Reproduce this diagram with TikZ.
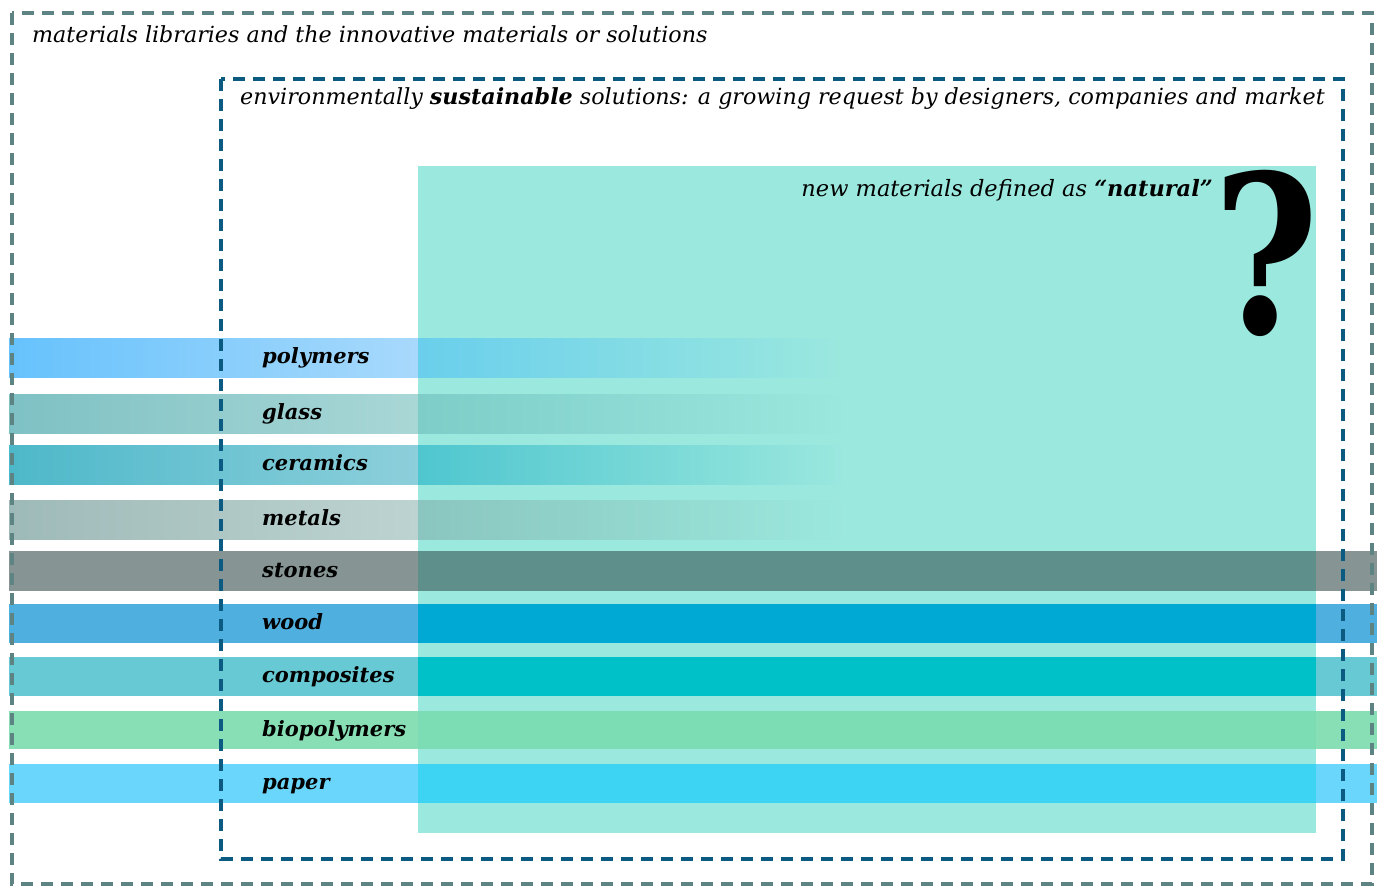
\documentclass[tikz,border=0pt]{standalone}
\usepackage{fontspec}
\setmainfont{DejaVu Serif}
\definecolor{tealbg}{HTML}{9BE8DE}
\definecolor{outerdash}{HTML}{5E8383}
\definecolor{innerdash}{HTML}{0B5A82}
\definecolor{polyA}{HTML}{66C2FC}\definecolor{polyB}{HTML}{A8D9FC}\definecolor{polyC}{HTML}{6ACFEC}
\definecolor{glassA}{HTML}{7EC1C4}\definecolor{glassB}{HTML}{A9D7D6}\definecolor{glassC}{HTML}{7ECDC8}
\definecolor{ceraA}{HTML}{4DB8C9}\definecolor{ceraB}{HTML}{8DCFDB}\definecolor{ceraC}{HTML}{4FC6CF}
\definecolor{metA}{HTML}{9EBAB8}\definecolor{metB}{HTML}{BDD3D1}\definecolor{metC}{HTML}{8AC6BF}
\definecolor{stoneA}{HTML}{869594}\definecolor{stoneC}{HTML}{5F8F8A}
\definecolor{woodA}{HTML}{4FB0E0}\definecolor{woodC}{HTML}{00A8D4}
\definecolor{compA}{HTML}{66C9D3}\definecolor{compC}{HTML}{00C0C8}
\definecolor{bioA}{HTML}{88DFB5}\definecolor{bioC}{HTML}{7CDDB5}
\definecolor{papA}{HTML}{6AD6FC}\definecolor{papC}{HTML}{3DD4F4}
\begin{document}
\begin{tikzpicture}[x=1pt,y=-1pt,
  framedash/.style={line width=3.4pt, dash pattern=on 12pt off 8pt},
  label/.style={anchor=base west, inner sep=0pt, font=\fontsize{21}{24}\selectfont\bfseries\itshape},
  title/.style={anchor=base west, inner sep=0pt, font=\fontsize{22.2}{26}\selectfont\itshape}]
\useasboundingbox[fill=white] (0,0) rectangle (1385,896);
% natural area
\fill[tealbg] (418,166) rectangle (1316,833);
% fading bars
\shade[left color=polyA, right color=polyB] (9,338) rectangle (418,377);
\shade[left color=polyC, right color=tealbg] (418,338) rectangle (848,377);
\shade[left color=glassA, right color=glassB] (9,394) rectangle (418,433);
\shade[left color=glassC, right color=tealbg] (418,394) rectangle (848,433);
\shade[left color=ceraA, right color=ceraB] (9,445) rectangle (418,484);
\shade[left color=ceraC, right color=tealbg] (418,445) rectangle (848,484);
\shade[left color=metA, right color=metB] (9,500) rectangle (418,539);
\shade[left color=metC, right color=tealbg] (418,500) rectangle (848,539);
% full bars
\foreach \ya/\yb/\ca/\cc in {551/591/stoneA/stoneC, 604/643/woodA/woodC, 657/696/compA/compC, 711/749/bioA/bioC, 764/803/papA/papC}{
  \fill[\ca] (9,\ya) rectangle (418,\yb);
  \fill[\cc] (418,\ya) rectangle (1316,\yb);
  \fill[\ca] (1316,\ya) rectangle (1377,\yb);
}
% frames
\draw[framedash, outerdash] (12,13) rectangle (1372,884);
\draw[framedash, innerdash] (221,79) rectangle (1343,859);
% texts
\node[title] (t1) at (32,43) {materials libraries and the innovative materials or solutions};
\node[title] (t2) at (240,105) {environmentally \textbf{sustainable} solutions: a growing request by designers, companies and market};
\node[title, anchor=base east, font=\fontsize{22.5}{26}\selectfont\itshape] (t3) at (1213,197) {new materials defined as \textbf{“natural”}};
\node[anchor=base, inner sep=0pt, font=\fontsize{220}{220}\selectfont\bfseries] (q) at (1266,334) {\scalebox{0.82}[1]{?}};
\node[label] (l1) at (262,363) {polymers};
\node[label] (l2) at (262,419) {glass};
\node[label] (l3) at (262,470) {ceramics};
\node[label] (l4) at (262,525) {metals};
\node[label] (l5) at (262,577) {stones};
\node[label] (l6) at (262,629) {wood};
\node[label] (l7) at (262,682) {composites};
\node[label] (l8) at (262,736) {biopolymers};
\node[label] (l9) at (262,789) {paper};
\end{tikzpicture}
\end{document}
